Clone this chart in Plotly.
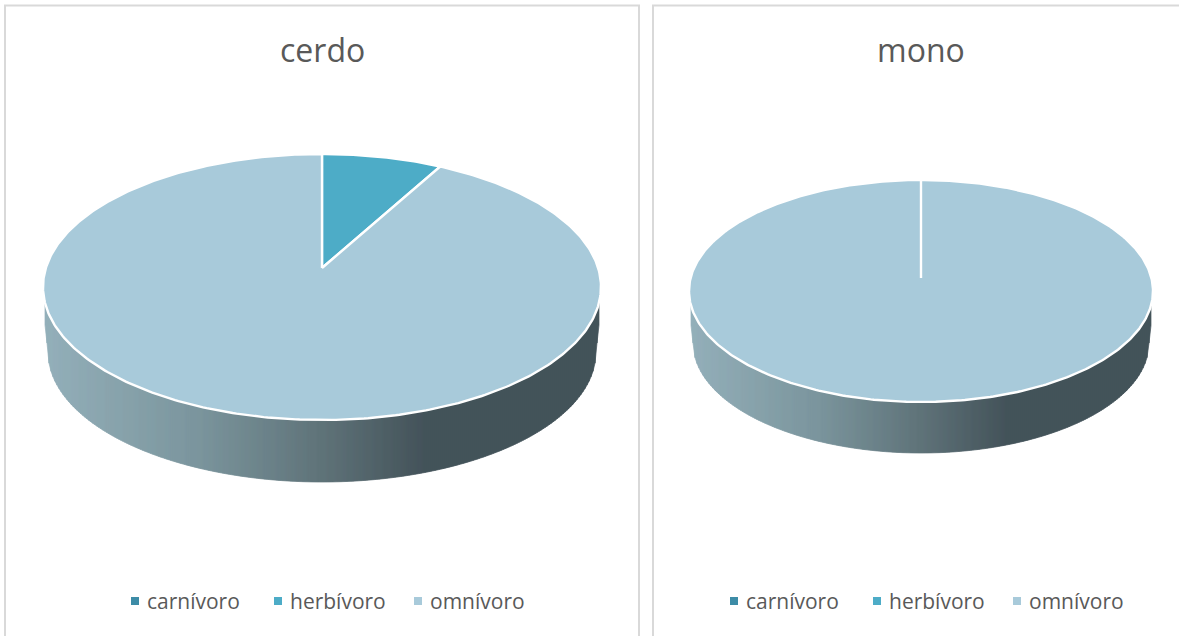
import numpy as np
import plotly.graph_objects as go

# -----------------------------
# Data
# -----------------------------
CATEGORIES = ["carnívoro", "herbívoro", "omnívoro"]
CERDO_VALUES = [0, 8, 92]
MONO_VALUES = [0, 0, 100]
SLICE_COLORS = ["#3d8ca7", "#4dacc7", "#a8cada"]

# wall shading: position across the pie width -> colour
WALL_STOPS = [0.0, 0.28, 0.5, 0.683, 1.0]
WALL_RGB = [(148, 176, 186), (123, 149, 157), (95, 115, 121), (68, 83, 90), (68, 83, 90)]

FONT = "Open Sans"
TEXT_COLOR = "#595959"
BORDER_COLOR = "#d9d9d9"

LEGEND_MARKER_OFFSET = [-187, -44, 96]
LEGEND_TEXT_GAP = 12
LEGEND_Y = 601


def rim_point(p, theta):
    """Perspective map of the pie disc: theta runs clockwise from 12 o'clock."""
    back = p["apex"] - p["top"]
    front = p["bottom"] - p["apex"]
    k = (front - back) / (front + back)
    a = back * (1 + k)
    b = p["rx"] * np.sqrt(1 - k**2)
    u, v = np.sin(theta), np.cos(theta)
    return p["cx"] + b * u / (1 + k * v), p["apex"] - a * v / (1 + k * v)


def wall_color(frac):
    rgb = [np.interp(frac, WALL_STOPS, [c[i] for c in WALL_RGB]) for i in range(3)]
    return "rgb(%d,%d,%d)" % tuple(int(round(c)) for c in rgb)


def add_wall(fig, p):
    cx, rx = p["cx"], p["rx"]
    mid = (p["top"] + p["bottom"]) / 2
    ry = (p["bottom"] - p["top"]) / 2

    def upper(x):
        return mid + ry * np.sqrt(max(0, 1 - ((x - cx) / rx) ** 2))

    def lower(x):
        d = abs(x - cx)
        if d <= p["wall_rx"]:
            return p["wall_cy"] + p["wall_ry"] * np.sqrt(1 - (d / p["wall_rx"]) ** 2)
        return np.interp(d, [p["wall_rx"], rx], [p["wall_cy"], mid + p["notch"]])

    # wall starts a little inside the widest point, where the rim has already dropped
    edges = np.arange(cx - rx + 2, cx + rx - 1, 2.0)
    for x0, x1 in zip(edges[:-1], edges[1:]):
        color = wall_color((x0 - (cx - rx)) / (2 * rx))
        fig.add_trace(go.Scatter(
            x=[x0, x1, x1, x0, x0],
            y=[upper(x0), upper(x1), lower(x1), lower(x0), upper(x0)],
            mode="lines", fill="toself", fillcolor=color,
            line=dict(color=color, width=0.7),
            hoverinfo="skip", showlegend=False,
        ))


def add_slices(fig, p, values):
    total = sum(values)
    start = 0.0
    for name, value, color in zip(CATEGORIES, values, SLICE_COLORS):
        if value == 0:
            continue
        end = start + 2 * np.pi * value / total
        theta = np.linspace(start, end, max(int((end - start) * 80), 8))
        xs, ys = rim_point(p, theta)
        fig.add_trace(go.Scatter(
            x=[p["cx"], *xs, p["cx"]],
            y=[p["apex"], *ys, p["apex"]],
            mode="lines", fill="toself", fillcolor=color,
            line=dict(color="white", width=2.4),
            name=name, hoverinfo="name", showlegend=False,
        ))
        start = end


def add_legend(fig, p):
    for name, color, off in zip(CATEGORIES, SLICE_COLORS, LEGEND_MARKER_OFFSET):
        x = p["cx"] + off
        fig.add_trace(go.Scatter(
            x=[x], y=[LEGEND_Y], mode="markers",
            marker=dict(symbol="square", size=8, color=color),
            name=name, hoverinfo="name", showlegend=False,
        ))
        fig.add_annotation(
            x=x + LEGEND_TEXT_GAP, y=LEGEND_Y, text=name, showarrow=False,
            xanchor="left", yanchor="middle", xshift=-2,
            font=dict(family=FONT, size=21, color=TEXT_COLOR),
        )


PANELS = [
    dict(title="cerdo", values=CERDO_VALUES, cx=322, rx=279, top=154, apex=268, bottom=420,
         wall_cy=352, wall_rx=274, wall_ry=130, notch=20, box=(5, 639), title_x=322),
    dict(title="mono", values=MONO_VALUES, cx=921, rx=232, top=180, apex=278, bottom=402,
         wall_cy=343, wall_rx=228, wall_ry=110, notch=17, box=(653, 1200), title_x=921),
]

fig = go.Figure()
for p in PANELS:
    fig.add_shape(type="rect", x0=p["box"][0], x1=p["box"][1], y0=5.5, y1=660,
                  line=dict(color=BORDER_COLOR, width=2), fillcolor="white", layer="below")
    add_wall(fig, p)
    add_slices(fig, p, p["values"])
    add_legend(fig, p)
    fig.add_annotation(
        x=p["title_x"], y=49, text=p["title"], showarrow=False,
        xanchor="center", yanchor="middle",
        font=dict(family=FONT, size=32, color=TEXT_COLOR),
    )

fig.update_xaxes(range=[0, 1179], visible=False, fixedrange=True)
fig.update_yaxes(range=[636, 0], visible=False, fixedrange=True)
fig.update_layout(
    width=1179, height=636,
    margin=dict(l=0, r=0, t=0, b=0),
    paper_bgcolor="white", plot_bgcolor="white",
    showlegend=False,
)
# page default margin would push the plot 8px in
fig.write_html("out.html", config=dict(displayModeBar=False),
               post_script="document.body.style.margin = '0';")
